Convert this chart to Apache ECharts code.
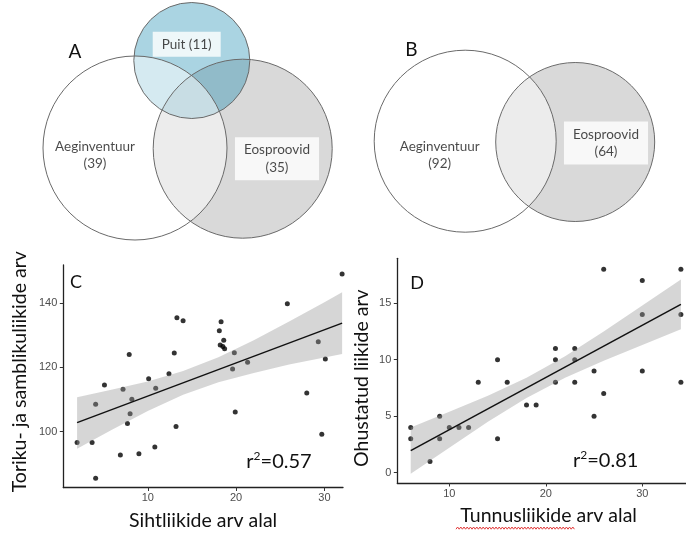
<!DOCTYPE html>
<html>
<head>
<meta charset="utf-8">
<script src="https://cdn.jsdelivr.net/npm/echarts@6/dist/echarts.min.js"></script>
<style>
  html, body { margin: 0; padding: 0; background: #fff; }
  #chart { width: 686px; height: 534px; }
</style>
</head>
<body>
<div id="chart"></div>
<script>
// ---------- Venn diagrams: set names and species counts ----------
const vennASets = ['Eosproovid', 'Puit', 'Aeginventuur'];
const vennACounts = [35, 11, 39];
const vennBSets = ['Eosproovid', 'Aeginventuur'];
const vennBCounts = [64, 92];

// ---------- Panel C: target species vs. bracket fungi + lichen species ----------
const cX = [2.0, 3.7, 4.1, 4.1, 5.1, 6.9, 7.2, 7.9, 7.7, 8.0, 8.2, 9.0, 10.1, 10.9, 10.8, 12.4, 13.0, 13.2,
            13.3, 14.0, 32.0, 25.8, 18.3, 18.1, 18.6, 18.2, 18.5, 18.7, 19.8, 19.6, 21.3, 29.3, 30.1, 28.0,
            19.9, 29.7];
const cY = [96.6, 96.6, 85.5, 108.5, 114.5, 92.7, 113.2, 124.0, 102.5, 105.6, 110.1, 93.1, 116.5, 113.5,
            95.2, 118.0, 124.5, 101.6, 135.5, 134.5, 149.1, 139.8, 134.2, 131.4, 128.5, 127.0, 126.5, 125.8,
            124.6, 119.5, 121.6, 128.0, 122.6, 112.0, 106.1, 99.2];
const cFitX = [2, 32];
const cFitY = [102.8, 133.8];
const cBandX = [2, 6, 10, 14, 18, 22, 26, 30, 32];
const cBandLo = [94.7, 100.7, 106.4, 111.5, 115.4, 118.3, 120.9, 123.1, 124.2];
const cBandHi = [110.7, 113.1, 115.6, 118.9, 123.2, 128.5, 134.3, 140.3, 143.4];
const cXTicks = [10, 20, 30];
const cYTicks = [100, 120, 140];
const cR2 = '0.57';

// ---------- Panel D: indicator species vs. threatened species ----------
const dX = [6, 6, 8, 9, 9, 10, 11, 12, 13, 15, 15, 16, 18, 19, 26, 30, 34, 30, 34, 21, 23, 21, 23, 21, 23,
            25, 30, 34, 26, 25];
const dY = [4, 3, 1, 5, 3, 4, 4, 4, 8, 10, 3, 8, 6, 6, 18, 17, 18, 14, 14, 11, 11, 10, 10, 8, 8,
            9, 9, 8, 7, 5];
const dFitX = [6, 34];
const dFitY = [1.95, 14.9];
const dBandX = [6, 10, 14, 18, 22, 26, 30, 34];
const dBandLo = [-0.1, 2.2, 4.5, 6.6, 8.4, 9.9, 11.3, 12.7];
const dBandHi = [4.0, 5.4, 6.8, 8.4, 10.3, 12.5, 14.8, 17.1];
const dXTicks = [10, 20, 30];
const dYTicks = [0, 5, 10, 15];
const dR2 = '0.81';

// ---------- layout of the Venn circles (pixel units of each panel), in drawing order ----------
const vennALayout = [
  { cx: 242.7, cy: 148.7, r: 89.5, fill: '#d9d9d9' },
  { cx: 191.8, cy: 60.5, r: 58, fill: 'rgba(5,128,170,0.34)' },
  { cx: 135, cy: 148, r: 92, fill: 'rgba(255,255,255,0.5)' }
];
const vennALabelPos = [[277, 158.7], [186.7, 44.2], [95, 155]];
const vennBLayout = [
  { cx: 575.2, cy: 142, r: 79.5, fill: '#d9d9d9' },
  { cx: 465.2, cy: 141.2, r: 91, fill: 'rgba(255,255,255,0.5)' }
];
const vennBLabelPos = [[606, 143], [439.7, 155]];

const TITLE_FONT = 'Lato';
const TICK_FONT = 'Liberation Sans';
const ptColor = '#000';
const bandColor = 'rgba(153,153,153,0.4)';

function pairs(xs, ys) { return xs.map((x, i) => [x, ys[i]]); }

function vennFillSeries(layout, gi) {
  return {
    type: 'scatter', xAxisIndex: gi, yAxisIndex: gi, silent: true, z: 1,
    emphasis: { disabled: true }, clip: false,
    data: layout.map(c => ({
      value: [c.cx, c.cy], symbolSize: c.r * 2,
      itemStyle: { color: c.fill, borderWidth: 0, opacity: 1 }
    }))
  };
}
function vennOutlineSeries(layout, gi) {
  return {
    type: 'scatter', xAxisIndex: gi, yAxisIndex: gi, silent: true, z: 2,
    emphasis: { disabled: true }, clip: false,
    data: layout.map(c => ({
      value: [c.cx, c.cy], symbolSize: c.r * 2,
      itemStyle: { color: 'rgba(0,0,0,0)', borderColor: '#6a6a6a', borderWidth: 1, opacity: 1 }
    }))
  };
}
function vennLabelSeries(names, counts, pos, boxed, gi) {
  return {
    type: 'scatter', xAxisIndex: gi, yAxisIndex: gi, silent: true, z: 5,
    emphasis: { disabled: true }, clip: false, symbolSize: 1,
    itemStyle: { color: 'rgba(0,0,0,0)' },
    data: names.map((n, i) => {
      const box = boxed[i];
      const oneLine = box === 'single';
      return {
        value: pos[i],
        label: {
          show: true, position: 'inside',
          formatter: oneLine ? n + ' (' + counts[i] + ')' : n + '\n(' + counts[i] + ')',
          fontFamily: TITLE_FONT, fontSize: 13.5, color: '#1a1a1a',
          lineHeight: oneLine ? 15 : 17.5, align: 'center',
          backgroundColor: box ? '#fff' : 'transparent',
          padding: box ? (oneLine ? [5, 9] : [4, 9]) : 0
        }
      };
    })
  };
}

function scatterAxes(gi, xmin, xmax, ymin, ymax, xt, yt, xname, yname, xgap, ygap, xpad, ypad) {
  const lineStyle = { color: '#222', width: 1.3 };
  const tick = { show: true, length: 3.5, lineStyle: { color: '#333', width: 1 } };
  const lab = { color: '#4d4d4d', fontFamily: TICK_FONT, fontSize: 11 };
  return {
    x: {
      type: 'value', gridIndex: gi, min: xmin, max: xmax,
      axisLine: { show: true, onZero: false, lineStyle },
      axisTick: Object.assign({ customValues: xt }, tick),
      axisLabel: Object.assign({ customValues: xt, margin: 5 }, lab),
      splitLine: { show: false },
      name: xname, nameLocation: 'middle', nameGap: xgap,
      nameTextStyle: { fontFamily: TITLE_FONT, fontSize: 19.5, color: '#111', padding: xpad }
    },
    y: {
      type: 'value', gridIndex: gi, min: ymin, max: ymax,
      axisLine: { show: true, onZero: false, lineStyle },
      axisTick: Object.assign({ customValues: yt }, tick),
      axisLabel: Object.assign({ customValues: yt, margin: 6 }, lab),
      splitLine: { show: false },
      name: yname, nameLocation: 'middle', nameGap: ygap,
      nameTextStyle: { fontFamily: TITLE_FONT, fontSize: 19.5, color: '#111', padding: ypad }
    }
  };
}

// Confidence band: one polygon through the upper edge and back along the lower edge
function bandSeries(gi, bx, lo, hi) {
  return {
    type: 'custom', xAxisIndex: gi, yAxisIndex: gi, z: 3, silent: true, clip: true,
    data: bx.map((x, i) => [x, lo[i], hi[i]]),
    encode: { x: 0, y: [1, 2] },
    renderItem: (params, api) => {
      if (params.dataIndex !== 0) return null;
      const upper = bx.map((x, i) => api.coord([x, hi[i]]));
      const lower = bx.map((x, i) => api.coord([x, lo[i]])).reverse();
      return {
        type: 'polygon',
        shape: { points: upper.concat(lower) },
        style: { fill: bandColor, stroke: null }
      };
    }
  };
}

function regressionSeries(gi, xs, ys, fx, fy, bx, lo, hi) {
  return [
    {
      type: 'scatter', xAxisIndex: gi, yAxisIndex: gi, z: 2, symbolSize: 5,
      itemStyle: { color: ptColor }, emphasis: { disabled: true }, clip: false,
      data: pairs(xs, ys)
    },
    bandSeries(gi, bx, lo, hi),
    {
      type: 'line', xAxisIndex: gi, yAxisIndex: gi, z: 4, symbol: 'none', silent: true,
      lineStyle: { color: '#111', width: 1.5 },
      data: pairs(fx, fy)
    }
  ];
}

const axC = scatterAxes(2, 0.44, 32.1, 82.6, 151.9, cXTicks, cYTicks,
  'Sihtliikide arv alal', 'Toriku- ja samblikuliikide arv', 23, 34, [0, 0, 0, 0], [0, 0, 0, 9]);
const axD = scatterAxes(3, 4.61, 34.53, -0.91, 18.97, dXTicks, dYTicks,
  'Tunnusliikide arv alal', 'Ohustatud liikide arv', 23, 26, [0, 0, 0, 14], [0, 15, 0, 0]);

const hiddenAxis = (gi, min, max, inverse) => ({
  type: 'value', gridIndex: gi, min, max, inverse, show: false, splitLine: { show: false }
});

// red spell-check squiggle under the first word of panel D's x title
const squiggle = [];
for (let x = 456, k = 0; x <= 576; x += 1.6, k++) squiggle.push([x, k % 2 ? 527 : 529.2]);

function r2Text(x, y, val) {
  return {
    type: 'text', x, y, silent: true,
    style: {
      text: '{m|r}{s|2}{m|=' + val + '}',
      align: 'center', verticalAlign: 'middle',
      rich: {
        m: { fontFamily: TITLE_FONT, fontSize: 20, lineHeight: 24, fill: '#111' },
        s: { fontFamily: TITLE_FONT, fontSize: 12, lineHeight: 16, verticalAlign: 'top', fill: '#111' }
      }
    }
  };
}
function letter(x, y, t, size) {
  return {
    type: 'text', x, y, silent: true,
    style: { text: t, fontFamily: TITLE_FONT, fontSize: size, fill: '#111', align: 'center', verticalAlign: 'middle' }
  };
}

const option = {
  animation: false,
  backgroundColor: '#fff',
  grid: [
    { left: 0, top: 0, width: 343, height: 240 },
    { left: 343, top: 0, width: 343, height: 240 },
    { left: 63.3, top: 265, width: 279.7, height: 222.5 },
    { left: 397.3, top: 258.3, width: 288.7, height: 224.7 }
  ],
  xAxis: [hiddenAxis(0, 0, 343, false), hiddenAxis(1, 343, 686, false), axC.x, axD.x],
  yAxis: [hiddenAxis(0, 0, 240, true), hiddenAxis(1, 0, 240, true), axC.y, axD.y],
  series: [
    vennFillSeries(vennALayout, 0),
    vennOutlineSeries(vennALayout, 0),
    vennLabelSeries(vennASets, vennACounts, vennALabelPos, ['multi', 'single', null], 0),
    vennFillSeries(vennBLayout, 1),
    vennOutlineSeries(vennBLayout, 1),
    vennLabelSeries(vennBSets, vennBCounts, vennBLabelPos, ['multi', null], 1),
    ...regressionSeries(2, cX, cY, cFitX, cFitY, cBandX, cBandLo, cBandHi),
    ...regressionSeries(3, dX, dY, dFitX, dFitY, dBandX, dBandLo, dBandHi)
  ],
  graphic: [
    letter(75, 51.7, 'A', 19),
    letter(411.3, 50, 'B', 19),
    letter(76, 281.7, 'C', 18),
    letter(417, 283.3, 'D', 18),
    r2Text(279, 462, cR2),
    r2Text(605.7, 461, dR2),
    { type: 'polyline', silent: true, shape: { points: squiggle },
      style: { stroke: '#e23b3b', lineWidth: 1, fill: null } }
  ]
};

const chart = echarts.init(document.getElementById('chart'), null, { renderer: 'canvas' });
chart.setOption(option);
</script>
</body>
</html>
